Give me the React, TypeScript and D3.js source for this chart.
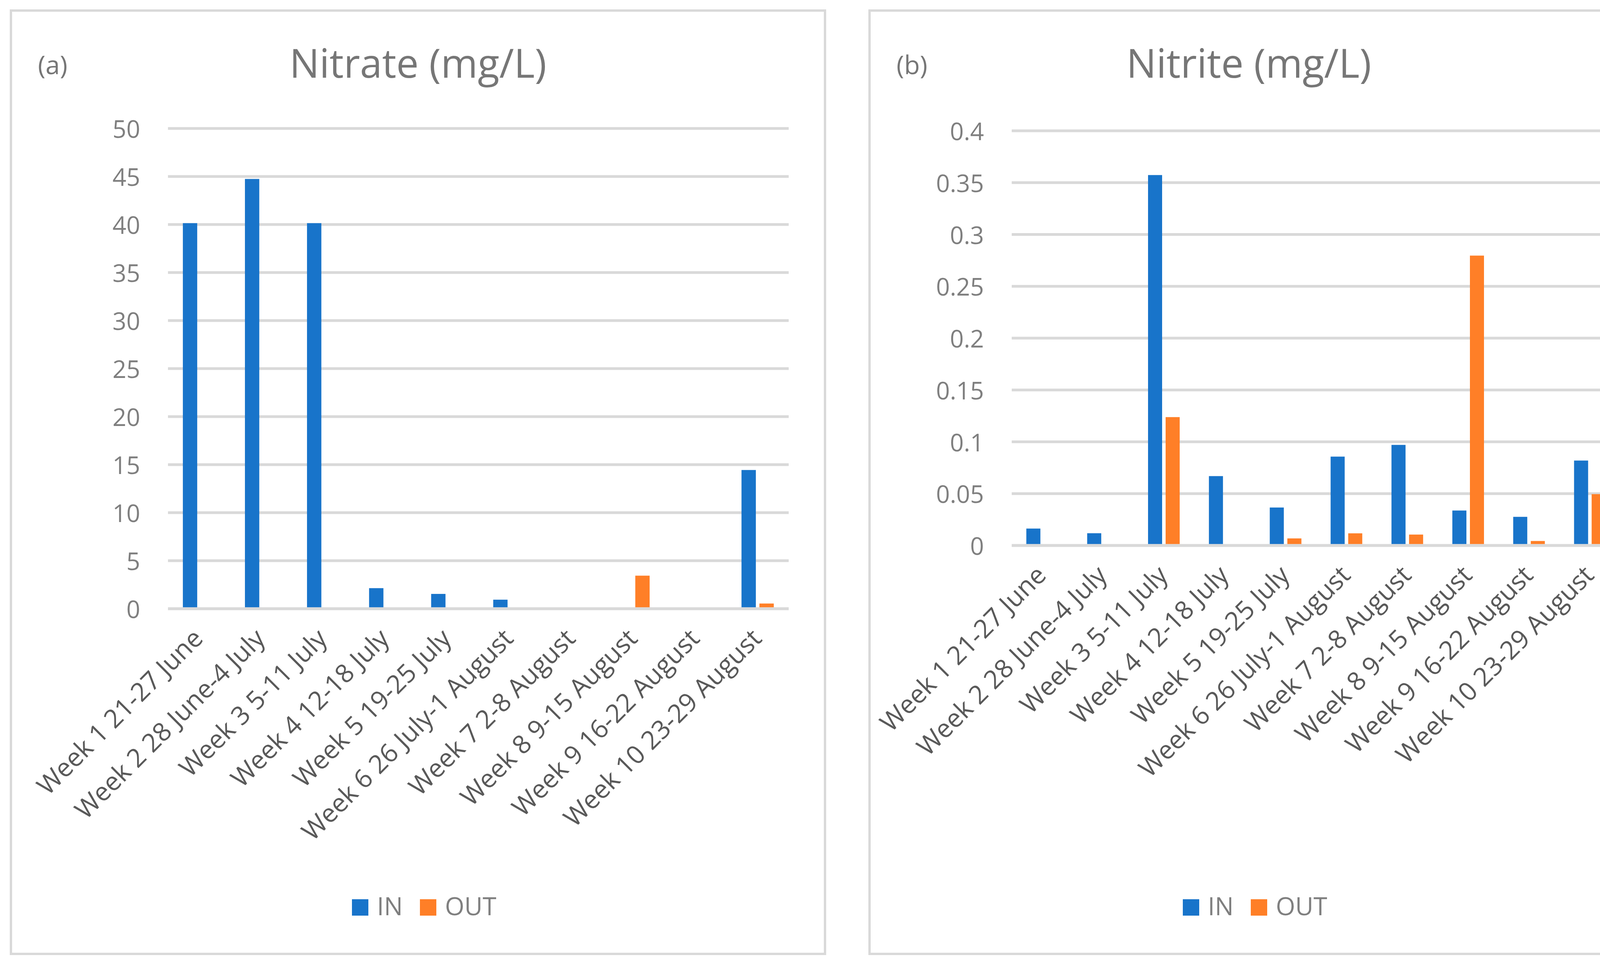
import * as d3 from "d3";
import React, { useEffect, useRef } from "react";

// weekly nitrate / nitrite, inlet vs outlet
const weeks = [
  "Week 1 21-27 June",
  "Week 2 28 June-4 July",
  "Week 3 5-11 July",
  "Week 4 12-18 July",
  "Week 5 19-25 July",
  "Week 6 26 July-1 August",
  "Week 7 2-8 August",
  "Week 8 9-15 August",
  "Week 9 16-22 August",
  "Week 10 23-29 August",
];
const series = ["IN", "OUT"];

const nitrateIn = [40, 44.6, 40, 2.0, 1.4, 0.8, 0, 0, 0, 14.3];
const nitrateOut = [0, 0, 0, 0, 0, 0, 0, 3.3, 0, 0.4];
const nitrateTicks = [0, 5, 10, 15, 20, 25, 30, 35, 40, 45, 50];

const nitriteIn = [0.015, 0.0105, 0.356, 0.0656, 0.0353, 0.0844, 0.0957, 0.0324, 0.0263, 0.0806];
const nitriteOut = [0, 0, 0.1225, 0, 0.0055, 0.0104, 0.0092, 0.2783, 0.003, 0.0482];
const nitriteTicks = [0, 0.05, 0.1, 0.15, 0.2, 0.25, 0.3, 0.35, 0.4];

const colors: Record<string, string> = { IN: "#1874ca", OUT: "#ff7f27" };
const FONT = "'Open Sans', sans-serif";

interface PanelCfg {
  tag: string;
  title: string;
  box: [number, number, number, number];
  left: number;
  right: number;
  top: number;
  bottom: number;
  ticks: number[];
  inVals: number[];
  outVals: number[];
}

const panels: PanelCfg[] = [
  {
    tag: "(a)",
    title: "Nitrate (mg/L)",
    box: [28, 27, 2112, 2443],
    left: 430,
    right: 2019,
    top: 329,
    bottom: 1559,
    ticks: nitrateTicks,
    inVals: nitrateIn,
    outVals: nitrateOut,
  },
  {
    tag: "(b)",
    title: "Nitrite (mg/L)",
    box: [2226, 27, 4168, 2443],
    left: 2590,
    right: 4148,
    top: 335,
    bottom: 1397,
    ticks: nitriteTicks,
    inVals: nitriteIn,
    outVals: nitriteOut,
  },
];

function drawPanel(svg: d3.Selection<SVGSVGElement, unknown, null, undefined>, p: PanelCfg) {
  const g = svg.append("g");
  const [bx0, by0, bx1, by1] = p.box;
  const cx = (bx0 + bx1) / 2;

  g.append("rect")
    .attr("x", bx0)
    .attr("y", by0)
    .attr("width", bx1 - bx0)
    .attr("height", by1 - by0)
    .attr("fill", "#fff")
    .attr("stroke", "#d9d9d9")
    .attr("stroke-width", 6);

  g.append("text")
    .attr("x", cx)
    .attr("y", 199)
    .attr("text-anchor", "middle")
    .style("font-family", FONT)
    .style("font-size", "102px")
    .attr("fill", "#767676")
    .text(p.title);

  g.append("text")
    .attr("x", bx0 + 69)
    .attr("y", 190)
    .style("font-family", FONT)
    .style("font-size", "66px")
    .attr("fill", "#767676")
    .text(p.tag);

  // scales
  const x0 = d3.scaleBand().domain(weeks).range([p.left, p.right]).paddingInner(0.48).paddingOuter(0.24);
  const x1 = d3.scaleBand().domain(series).range([0, x0.bandwidth()]).paddingInner(0.2);
  const y = d3
    .scaleLinear()
    .domain([0, d3.max(p.ticks)!])
    .range([p.bottom, p.top]);

  // gridlines
  g.append("g")
    .selectAll("line")
    .data(p.ticks)
    .enter()
    .append("line")
    .attr("x1", p.left)
    .attr("x2", p.right)
    .attr("y1", (d) => y(d))
    .attr("y2", (d) => y(d))
    .attr("stroke", "#d9d9d9")
    .attr("stroke-width", 7);

  // y labels
  g.append("g")
    .selectAll("text")
    .data(p.ticks)
    .enter()
    .append("text")
    .attr("x", p.left - 71)
    .attr("y", (d) => y(d))
    .attr("text-anchor", "end")
    .attr("dominant-baseline", "central")
    .style("font-family", FONT)
    .style("font-size", "62px")
    .attr("fill", "#7f7f7f")
    .text((d) => String(+d.toFixed(2)));

  // bars
  const rows = weeks.map((w, i) => ({ week: w, IN: p.inVals[i], OUT: p.outVals[i] }));
  g.append("g")
    .selectAll("g")
    .data(rows)
    .enter()
    .append("g")
    .attr("transform", (d) => `translate(${x0(d.week)},0)`)
    .selectAll("rect")
    .data((d) => series.map((s) => ({ key: s, value: (d as any)[s] as number })))
    .enter()
    .append("rect")
    .attr("x", (d) => x1(d.key)!)
    .attr("y", (d) => y(d.value) - 3.5)
    .attr("width", x1.bandwidth())
    .attr("height", (d) => (d.value > 0 ? y(0) - y(d.value) : 0))
    .attr("fill", (d) => colors[d.key]);

  // zero line over bar bases
  g.append("line")
    .attr("x1", p.left)
    .attr("x2", p.right)
    .attr("y1", y(0))
    .attr("y2", y(0))
    .attr("stroke", "#d9d9d9")
    .attr("stroke-width", 7);

  // x labels, rotated
  g.append("g")
    .selectAll("text")
    .data(weeks)
    .enter()
    .append("text")
    .attr(
      "transform",
      (d) => `translate(${x0(d)! + x0.bandwidth() / 2 + 14},${p.bottom + 80}) rotate(-45)`
    )
    .attr("text-anchor", "end")
    .style("font-family", FONT)
    .style("font-size", "66px")
    .attr("fill", "#595959")
    .text((d) => d);

  // legend
  const lg = g.append("g").attr("transform", `translate(${cx},2324)`);
  const legendX = [-169, 5];
  series.forEach((s, i) => {
    lg.append("rect")
      .attr("x", legendX[i])
      .attr("y", -21)
      .attr("width", 42)
      .attr("height", 42)
      .attr("fill", colors[s]);
    lg.append("text")
      .attr("x", legendX[i] + 64)
      .attr("y", 20)
      .style("font-family", FONT)
      .style("font-size", "64px")
      .attr("fill", "#7f7f7f")
      .text(s);
  });
}

const App: React.FC = () => {
  const ref = useRef<SVGSVGElement | null>(null);

  useEffect(() => {
    if (!ref.current) return;
    const svg = d3.select(ref.current);
    svg.selectAll("*").remove();
    svg.append("rect").attr("width", 4191).attr("height", 2474).attr("fill", "#fff");
    panels.forEach((p) => drawPanel(svg, p));
  }, []);

  return (
    <svg
      ref={ref}
      width={4191}
      height={2474}
      style={{ position: "absolute", left: 0, top: 0, display: "block" }}
    ></svg>
  );
};

export default App;
